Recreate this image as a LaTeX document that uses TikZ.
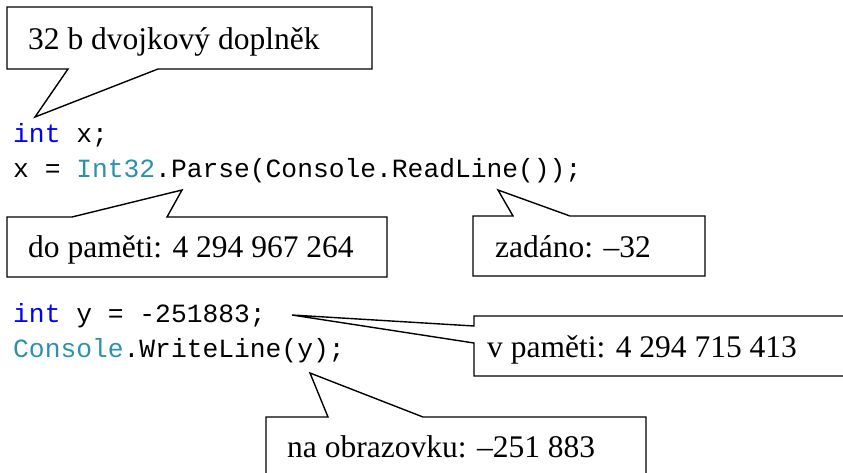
\documentclass[tikz,border=0pt]{standalone}
\usepackage{fontspec}
\setmainfont{Liberation Serif}
\newfontfamily\codefont{Liberation Mono}
\definecolor{kwblue}{RGB}{0,0,255}
\definecolor{typeteal}{RGB}{43,145,175}
\begin{document}
\begin{tikzpicture}[x=1pt,y=-1pt,
  lbl/.style={anchor=base west,inner sep=0pt,font=\fontsize{31.5}{36}\selectfont},
  code/.style={anchor=base west,inner sep=0pt,font=\codefont\fontsize{26.3}{30}\selectfont},
  callout/.style={draw=black,line width=1.4pt,line join=miter,fill=white}]
\useasboundingbox (0,0) rectangle (843,472);
\clip (0,0) rectangle (843,472);
% code lines
\node[code] (c1) at (13,142) {\textcolor{kwblue}{int} x;};
\node[code] (c2) at (13,177) {x = \textcolor{typeteal}{Int32}.Parse(Console.ReadLine());};
\node[code] (c3) at (13,322) {\textcolor{kwblue}{int} y = -251883;};
\node[code] (c4) at (13,357) {\textcolor{typeteal}{Console}.WriteLine(y);};
% callout 1
\coordinate (p1) at (35,117);
\draw[callout] (7,7) -- (372,7) -- (372,69) -- (158,69) -- (p1) -- (68,69) -- (7,69) -- cycle;
\node[lbl] (t1) at (28,49) {32 b dvojkový doplněk};
% callout 2
\coordinate (p2) at (182,190);
\draw[callout] (7,217) -- (72,217) -- (p2) -- (167,217) -- (387,217) -- (387,277) -- (7,277) -- cycle;
\node[lbl] (t2) at (28,257) {do paměti: 4 294 967 264};
% callout 3
\coordinate (p3) at (498,190);
\draw[callout] (473,216) -- (513,216) -- (p3) -- (570,216) -- (705,216) -- (705,276) -- (473,276) -- cycle;
\node[lbl] (t3) at (495,257) {zadáno: –32};
% callout 4
\coordinate (p4) at (292,315);
\draw[callout] (860,316) -- (474,316) -- (474,326) -- (p4) -- (474,343) -- (474,376) -- (860,376);
\node[lbl] (t4) at (487,357) {v paměti: 4 294 715 413};
% callout 5
\coordinate (p5) at (310,373);
\draw[callout] (266,490) -- (266,417) -- (328,417) -- (p5) -- (423,417) -- (646,417) -- (646,490);
\node[lbl] (t5) at (287,457) {na obrazovku: –251 883};
\end{tikzpicture}
\end{document}
